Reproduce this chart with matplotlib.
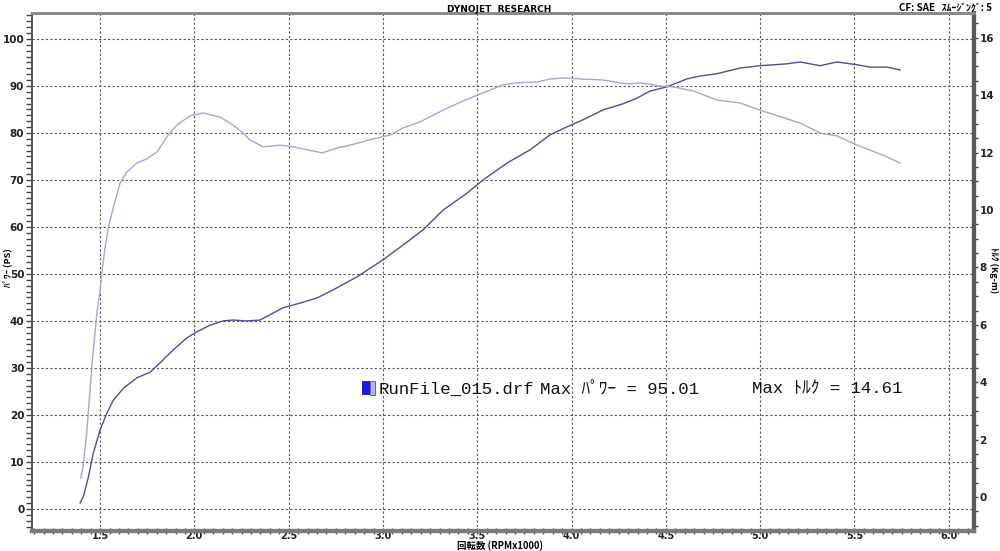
import matplotlib.pyplot as plt
from matplotlib.patches import Rectangle
from matplotlib.ticker import MultipleLocator

# Power curve (PS) vs RPM x1000
pwr_rpm = [1.394, 1.411, 1.438, 1.464, 1.500, 1.536, 1.571, 1.624, 1.695, 1.765,
           1.818, 1.887, 1.960, 2.013, 2.083, 2.152, 2.205, 2.278, 2.348, 2.470,
           2.560, 2.651, 2.735, 2.863, 3.000, 3.128, 3.213, 3.319, 3.446, 3.531,
           3.658, 3.780, 3.886, 3.976, 4.061, 4.167, 4.273, 4.347, 4.416, 4.506,
           4.612, 4.681, 4.771, 4.893, 4.999, 5.143, 5.212, 5.318, 5.408, 5.514,
           5.583, 5.673, 5.742]
pwr_ps = [1.3, 2.6, 6.8, 11.9, 16.8, 20.4, 23.2, 25.7, 27.9, 29.1,
          31.1, 33.8, 36.4, 37.7, 39.1, 40.0, 40.2, 40.0, 40.2, 42.8,
          43.8, 44.9, 46.6, 49.4, 53.0, 56.8, 59.4, 63.6, 67.2, 70.0,
          73.6, 76.4, 79.6, 81.3, 82.8, 84.9, 86.2, 87.4, 88.9, 89.8,
          91.5, 92.1, 92.6, 93.8, 94.3, 94.7, 95.1, 94.3, 95.1, 94.5,
          94.0, 94.0, 93.4]

# Torque curve (Kg-m) vs RPM x1000
trq_rpm = [1.398, 1.411, 1.429, 1.456, 1.483, 1.500, 1.509, 1.527, 1.544, 1.571,
           1.606, 1.642, 1.695, 1.748, 1.801, 1.854, 1.907, 1.977, 2.046, 2.136,
           2.205, 2.258, 2.295, 2.364, 2.454, 2.523, 2.677, 2.757, 2.826, 2.969,
           3.038, 3.107, 3.197, 3.319, 3.425, 3.531, 3.637, 3.711, 3.817, 3.886,
           3.955, 4.061, 4.167, 4.294, 4.363, 4.469, 4.538, 4.644, 4.771, 4.893,
           4.999, 5.159, 5.212, 5.318, 5.408, 5.514, 5.620, 5.673, 5.742]
trq_kgm = [0.66, 1.11, 2.23, 4.53, 6.41, 7.21, 7.80, 8.71, 9.41, 10.10,
           10.94, 11.32, 11.64, 11.78, 12.02, 12.54, 12.96, 13.28, 13.38, 13.24,
           12.96, 12.68, 12.44, 12.20, 12.26, 12.20, 11.99, 12.16, 12.26, 12.51,
           12.61, 12.86, 13.07, 13.48, 13.80, 14.08, 14.36, 14.43, 14.46, 14.56,
           14.60, 14.56, 14.53, 14.39, 14.43, 14.32, 14.29, 14.15, 13.83, 13.73,
           13.48, 13.14, 13.03, 12.68, 12.58, 12.26, 11.99, 11.85, 11.64]

x_ticks = [1.5, 2.0, 2.5, 3.0, 3.5, 4.0, 4.5, 5.0, 5.5, 6.0]
left_ticks = list(range(0, 101, 10))
right_ticks = list(range(0, 17, 2))

title = 'DYNOJET  RESEARCH'
corner_note = 'CF: SAE   ｽﾑｰｼﾞﾝｸﾞ: 5'
xlabel = '回転数 (RPMx1000)'
left_label = 'ﾊﾟﾜｰ (PS)'
right_label = 'ﾄﾙｸ (Kg-m)'
legend_parts = ['RunFile_015.drf', 'Max ﾊﾟﾜｰ = 95.01', 'Max ﾄﾙｸ = 14.61']

jp = ['Noto Sans CJK JP', 'DejaVu Sans']
mono = ['Liberation Mono', 'Noto Sans CJK JP']

fig = plt.figure(figsize=(10, 5.51), dpi=100)
ax = fig.add_axes([0.032, 0.0363, 0.942, 0.940])
ax2 = ax.twinx()

ax.plot(pwr_rpm, pwr_ps, color='#4e4e98', lw=1.0)
ax2.plot(trq_rpm, trq_kgm, color='#a6a6d4', lw=1.0)

ax.set_xlim(1.139, 6.134)
ax.set_ylim(-4.68, 105.5)
ax2.set_ylim(-1.18, 16.86)

ax.set_xticks(x_ticks)
ax.set_xticklabels([f'{v:.1f}' for v in x_ticks])
ax.xaxis.set_minor_locator(MultipleLocator(0.05))
ax.set_yticks(left_ticks)
ax.yaxis.set_minor_locator(MultipleLocator(1.25))
ax2.set_yticks(right_ticks)
ax2.yaxis.set_minor_locator(MultipleLocator(0.5))

ax.grid(True, which='major', color='#555555', lw=0.8, linestyle=(0, (2, 2)))
ax.set_axisbelow(True)

ax.tick_params(axis='x', which='both', direction='inout', length=5, width=1,
               color='#444444', pad=-2.5, labelsize=7, colors='#222222')
ax.tick_params(axis='x', which='minor', length=4)
ax.tick_params(axis='y', which='both', direction='out', length=4, width=1,
               color='#444444', pad=1.5, labelsize=7.5, colors='#222222')
ax2.tick_params(axis='y', which='both', direction='out', length=3, width=1,
                color='#444444', pad=1, labelsize=7.5, colors='#222222')
for lab in ax.get_xticklabels() + ax.get_yticklabels() + ax2.get_yticklabels():
    lab.set_fontweight('bold')

for a in (ax, ax2):
    a.spines['top'].set_color('#8a8a8a')
    a.spines['top'].set_linewidth(2)
    a.spines['left'].set_color('#555555')
    a.spines['left'].set_linewidth(1.3)
    a.spines['bottom'].set_color('#7a7a7a')
    a.spines['bottom'].set_linewidth(3)
    a.spines['right'].set_color('#5a5a5a')
    a.spines['right'].set_linewidth(3)

fig.text(0.499, 0.991, title, ha='center', va='top', fontsize=6.5,
         fontweight='bold', family='DejaVu Sans')
fig.text(0.992, 0.995, corner_note, ha='right', va='top', fontsize=7,
         fontweight='bold', family=jp)
fig.text(0.500, 0.0, xlabel, ha='center', va='bottom', fontsize=6.8,
         fontweight='bold', family=jp)
fig.text(0.007, 0.515, left_label, ha='center', va='center', rotation=90,
         fontsize=6.5, fontweight='bold', family=jp)
fig.text(0.994, 0.51, right_label, ha='center', va='center', rotation=-90,
         fontsize=6.5, fontweight='bold', family=jp)

# legend-like annotation
ly = 1 - 389 / 551
for txt, xp in zip(legend_parts, [0.379, 0.540, 0.752]):
    fig.text(xp, ly, txt, ha='left', va='center', fontsize=12.5, family=mono,
             color='#111111')
fig.patches.append(Rectangle((0.362, 1 - 395 / 551), 0.008, 14 / 551,
                             transform=fig.transFigure, facecolor='#1a1ae6',
                             edgecolor='none'))
fig.patches.append(Rectangle((0.370, 1 - 395 / 551), 0.005, 14 / 551,
                             transform=fig.transFigure, facecolor='#b4b4f0',
                             edgecolor='#555577', lw=0.6))

fig.savefig('out.png', dpi=100)
